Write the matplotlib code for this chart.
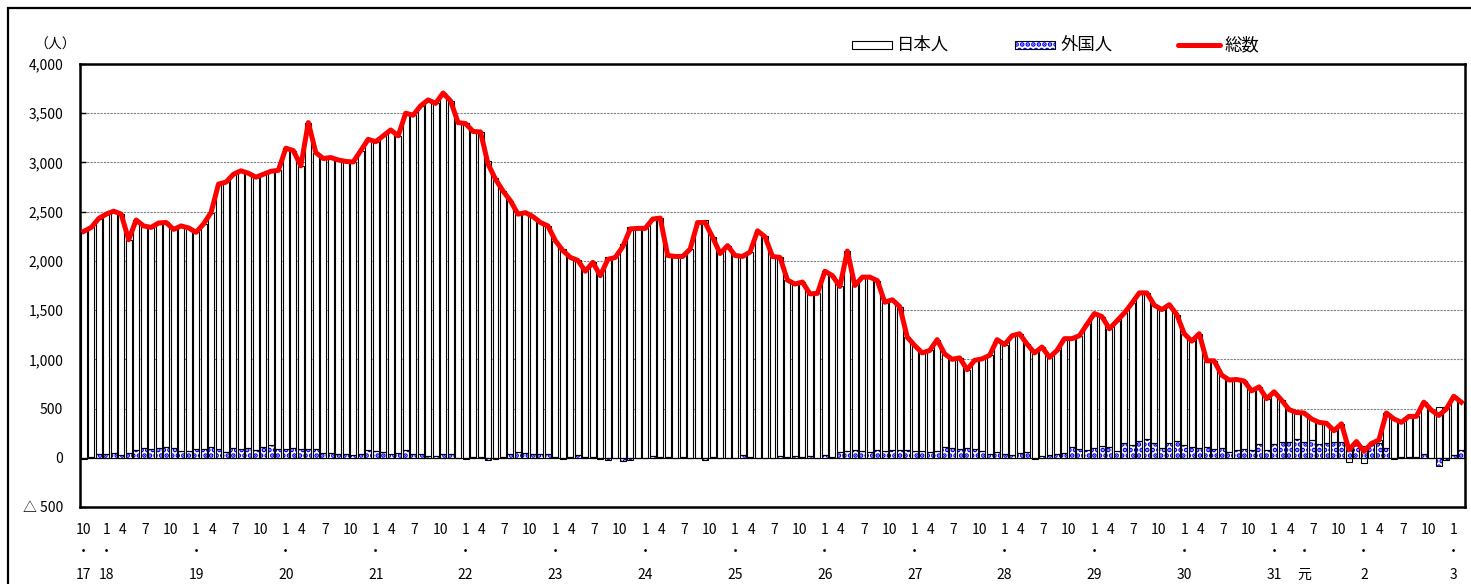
import numpy as np
import matplotlib
matplotlib.use("Agg")
import matplotlib.pyplot as plt
from matplotlib.patches import Rectangle
from matplotlib.lines import Line2D
import matplotlib.transforms as mtransforms

plt.rcParams['font.family'] = ['Noto Sans CJK JP', 'DejaVu Sans']
plt.rcParams['hatch.linewidth'] = 2.4

# 月次データ（平成17年10月〜令和3年2月）
total = [
    2300, 2340, 2430, 2475, 2505, 2475, 2215, 2415, 2355, 2340, 2385, 2390,
    2320, 2355, 2335, 2290, 2375, 2490, 2780, 2800, 2880, 2915, 2890, 2850,
    2880, 2910, 2920, 3145, 3120, 2965, 3405, 3100, 3040, 3050, 3025, 3010,
    3005, 3120, 3235, 3210, 3270, 3330, 3270, 3500, 3480, 3575, 3635, 3600,
    3705, 3625, 3405, 3395, 3315, 3310, 2985, 2830, 2710, 2610, 2475, 2490,
    2450, 2390, 2355, 2205, 2105, 2035, 2005, 1895, 1985, 1850, 2015, 2035,
    2145, 2325, 2330, 2330, 2425, 2435, 2055, 2045, 2045, 2120, 2390, 2390,
    2240, 2075, 2155, 2055, 2045, 2090, 2305, 2245, 2045, 2035, 1805, 1765,
    1785, 1665, 1670, 1895, 1850, 1740, 2100, 1750, 1835, 1835, 1800, 1580,
    1605, 1535, 1225, 1140, 1065, 1090, 1200, 1055, 1000, 1015, 895, 990,
    1005, 1040, 1200, 1150, 1240, 1260, 1155, 1065, 1125, 1020, 1090, 1210,
    1210, 1240, 1355, 1465, 1435, 1310, 1390, 1470, 1570, 1675, 1675, 1550,
    1505, 1555, 1455, 1260, 1185, 1260, 985, 985, 840, 790, 795, 780,
    680, 720, 600, 670, 585, 490, 460, 455, 395, 360, 350, 275,
    345, 80, 165, 65, 145, 180, 455, 395, 360, 420, 420, 565,
    485, 430, 495, 625, 565,
]
gaikokujin = [
    -15, 5, 40, 40, 45, 25, 45, 75, 95, 85, 100, 110,
    95, 70, 70, 90, 85, 110, 85, 60, 95, 90, 100, 75,
    110, 125, 90, 90, 95, 90, 90, 85, 50, 45, 35, 40,
    25, 35, 75, 70, 60, 35, 50, 75, 40, 35, 15, 15,
    35, 35, -5, -10, 5, 5, -25, -8, 5, 40, 60, 45,
    35, 35, 35, 10, -15, 5, 30, 10, 5, -15, -25, 0,
    -30, -20, -7, -3, 15, 7, 3, -3, 7, -3, 0, -25,
    3, -3, 0, 0, 25, 7, -3, -3, -7, 15, 7, 15,
    7, 15, -7, 25, 7, 55, 70, 75, 70, 60, 80, 70,
    75, 75, 80, 70, 70, 55, 65, 105, 100, 90, 100, 85,
    70, 40, 55, 40, 30, 45, 60, -15, 15, 25, 35, 45,
    110, 90, 80, 95, 120, 110, 70, 155, 130, 175, 195, 150,
    100, 155, 170, 130, 110, 100, 110, 90, 95, 55, 75, 90,
    75, 140, 75, 140, 160, 165, 190, 160, 180, 145, 150, 165,
    165, 120, 125, 120, 140, 150, 100, -8, 10, 7, 7, 35,
    -3, -85, -25, 25, 75,
]
# 日本人 = 総数 − 外国人
nihonjin = [t - g for t, g in zip(total, gaikokujin)]

# 横軸ラベル（月、年）
month_labels = ["1", "4", "7", "10"]
month_shift = [0.0, 2.15, 5.2, 8.6]
year_labels = ["17", "18", "19", "20", "21", "22", "23", "24", "25", "26",
               "27", "28", "29", "30", "31", "元", "2", "3"]
year_pos = [0, 3, 15, 27, 39, 51, 63, 75, 87, 99, 111, 123, 135, 147, 159, 163, 171, 183]
yticks = list(range(-500, 4001, 500))

W, H = 1471, 584
fig = plt.figure(figsize=(W / 100, H / 100), dpi=100)
ax = fig.add_axes([80 / W, 1 - 507 / H, 1385 / W, 443 / H])

x = np.arange(len(total))
g = np.array(gaikokujin, dtype=float)
n = np.array(nihonjin, dtype=float)
pos_top = np.where(g > 0, g, 0)
neg_bot = np.where(g < 0, g, 0)
n_bottom = np.where(n >= 0, pos_top, neg_bot)

bw = 0.8
BLUE = "#0000ff"
# 外国人（ドット柄）
ax.bar(x, g, bw, color="white", edgecolor=BLUE, hatch="...", linewidth=0, zorder=2)
ax.bar(x, g, bw, fill=False, edgecolor="black", linewidth=0.8, zorder=3)
# 日本人（白）
ax.bar(x, n, bw, bottom=n_bottom, color="white", edgecolor="black", linewidth=0.8, zorder=2)
# 総数
ax.plot(x, total, color="#ff0000", linewidth=3.6, solid_joinstyle="round", zorder=5)

ax.axhline(0, color="black", linewidth=0.8, zorder=4)
ax.set_xlim(-0.5, len(total) - 0.5)
ax.set_ylim(-500, 4000)
ax.set_yticks(yticks)
ax.set_yticklabels(["△ 500" if v < 0 else f"{v:,}" for v in yticks], fontsize=10)
ax.tick_params(axis="y", direction="in", length=4, width=1, pad=12)
ax.set_xticks([])
ax.yaxis.grid(True, linestyle=(0, (2, 1)), color="#808080", linewidth=0.8)
ax.set_axisbelow(True)
for s in ax.spines.values():
    s.set_linewidth(1.8)

trans = mtransforms.blended_transform_factory(ax.transData, ax.transAxes)
y_month = (507 - 530) / 443
y_dot = (507 - 551) / 443
y_year = (507 - 575) / 443
ax.text(0, y_month, "10", transform=trans, ha="center", va="center", fontsize=10)
for jan in range(3, len(total), 12):
    for lab, sh in zip(month_labels, month_shift):
        if jan + sh < len(total):
            ax.text(jan + sh, y_month, lab, transform=trans, ha="center", va="center", fontsize=10)
for lab, p in zip(year_labels, year_pos):
    ax.text(p, y_dot, "・", transform=trans, ha="center", va="center", fontsize=8,
            fontweight="bold")
    ax.text(p, y_year, lab, transform=trans, ha="center", va="center", fontsize=10)

fig.text(55 / W, 1 - 45 / H, "（人）", ha="center", va="center", fontsize=10)

# 凡例
fig.add_artist(Rectangle((852 / W, 1 - 49 / H), 40 / W, 8 / H, facecolor="white",
                         edgecolor="black", linewidth=0.8, transform=fig.transFigure))
fig.text(897 / W, 1 - 45 / H, "日本人", ha="left", va="center", fontsize=12.5)
fig.add_artist(Rectangle((1015 / W, 1 - 49 / H), 40 / W, 8 / H, facecolor="white",
                         edgecolor=BLUE, hatch="...", linewidth=0, transform=fig.transFigure))
fig.add_artist(Rectangle((1015 / W, 1 - 49 / H), 40 / W, 8 / H, fill=False,
                         edgecolor="black", linewidth=0.8, transform=fig.transFigure))
fig.text(1061 / W, 1 - 45 / H, "外国人", ha="left", va="center", fontsize=12.5)
fig.add_artist(Line2D([1178 / W, 1220 / W], [1 - 45 / H, 1 - 45 / H], color="#ff0000",
                      linewidth=3.6, solid_capstyle="round", transform=fig.transFigure))
fig.text(1225 / W, 1 - 45 / H, "総数", ha="left", va="center", fontsize=12.5)

# 外枠
fig.add_artist(Rectangle((8 / W, -0.1), 1.2, 1 - 8 / H + 0.1, fill=False, edgecolor="black",
                         linewidth=1.6, transform=fig.transFigure))

fig.savefig("out.png", dpi=100)
